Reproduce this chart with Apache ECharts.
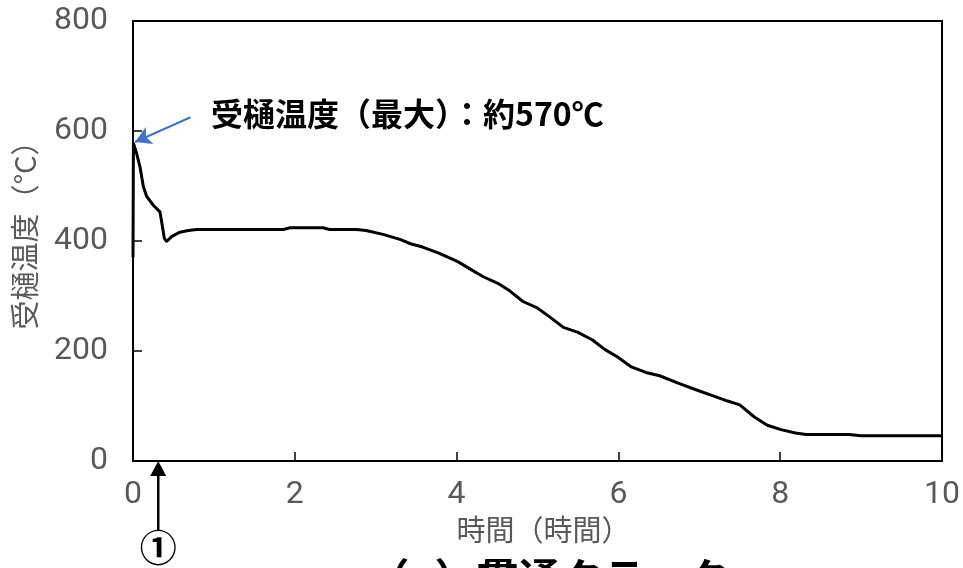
<!DOCTYPE html>
<html>
<head>
<meta charset="utf-8">
<script src="https://cdn.jsdelivr.net/npm/echarts@6/dist/echarts.min.js"></script>
<style>html,body{margin:0;padding:0;background:#fff;}#c{width:963px;height:568px;}</style>
</head>
<body>
<div id="c"></div>
<script>
// ---- data ----
var timeHours = [0, 0.005, 0.045, 0.086, 0.128, 0.169, 0.251, 0.333, 0.354, 0.387, 0.416, 0.477, 0.58, 0.683, 0.786, 1.86, 1.94, 2.35, 2.43, 2.76, 2.88, 3.09, 3.30, 3.43, 3.58, 3.78, 3.96, 4.02, 4.18, 4.33, 4.51, 4.66, 4.82, 4.99, 5.15, 5.32, 5.50, 5.68, 5.83, 5.99, 6.16, 6.34, 6.51, 6.73, 6.95, 7.18, 7.35, 7.50, 7.68, 7.84, 8.01, 8.19, 8.32, 8.85, 9.00, 10];
var troughTemp = [370, 578, 559, 535, 499, 481, 465, 453, 435, 405, 399, 408, 416, 419, 421, 421, 424, 424, 421, 421, 419, 412, 403, 395, 389, 378, 366, 362, 348, 335, 323, 309, 290, 279, 262, 243, 234, 220, 203, 189, 171, 161, 155, 142, 130, 118, 109, 102, 80, 65, 57, 51, 48, 48, 46, 46];
var xTicks = {min: 0, max: 10, interval: 2};
var yTicks = {min: 0, max: 800, interval: 200};
var xTitle = '時間（時間）';
var yTitle = '受樋温度（°C）';
var annotationText = '受樋温度（最大）：約570℃';
var arrowFrom = [0.711, 625];
var arrowTo = [0.025, 580];
var markerTime = 0.312;
var markerLabel = '①';
var caption = '（a）貫通クラック';

var seriesData = timeHours.map(function (t, i) { return [t, troughTemp[i]]; });

var numFont = "'Roboto', sans-serif";
var jpFont = "'Noto Sans CJK JP', sans-serif";
var gray = '#595959';

var chart = echarts.init(document.getElementById('c'), null, {renderer: 'canvas'});
chart.setOption({
  animation: false,
  backgroundColor: '#fff',
  grid: {left: 133, right: 20, top: 21, bottom: 107, show: true, borderColor: '#000', borderWidth: 2, backgroundColor: 'transparent'},
  xAxis: {
    type: 'value', min: xTicks.min, max: xTicks.max, interval: xTicks.interval,
    name: xTitle, nameLocation: 'middle', nameGap: 49,
    nameTextStyle: {color: gray, fontFamily: jpFont, fontSize: 29, padding: [0, 0, 0, 12]},
    axisLine: {show: true, onZero: false, lineStyle: {color: '#000', width: 2}},
    axisTick: {show: true, inside: true, length: 9, lineStyle: {color: '#000', width: 1.5}},
    axisLabel: {color: gray, fontFamily: numFont, fontSize: 32, margin: 18},
    splitLine: {show: false}
  },
  yAxis: {
    type: 'value', min: yTicks.min, max: yTicks.max, interval: yTicks.interval,
    name: yTitle, nameLocation: 'middle', nameGap: 94,
    nameTextStyle: {color: gray, fontFamily: jpFont, fontSize: 29, padding: [0, 0, 0, 26]},
    axisLine: {show: true, lineStyle: {color: '#000', width: 2}},
    axisTick: {show: true, inside: true, length: 9, lineStyle: {color: '#000', width: 1.5}},
    axisLabel: {color: gray, fontFamily: numFont, fontSize: 32, margin: 25},
    splitLine: {show: false}
  },
  series: [{
    type: 'line',
    data: seriesData,
    showSymbol: false,
    symbol: 'none',
    lineStyle: {color: '#000', width: 3},
    markLine: {
      silent: true,
      symbol: ['none', 'arrow'],
      symbolSize: [14, 16],
      label: {show: false},
      lineStyle: {color: '#4472C4', width: 2, type: 'solid'},
      data: [[{coord: arrowFrom}, {coord: arrowTo}]]
    }
  }]
});

var tip = chart.convertToPixel({gridIndex: 0}, [markerTime, 0]);
var tx = tip[0], ty = tip[1];
chart.setOption({
  graphic: [
    {type: 'line', shape: {x1: tx, y1: ty + 12, x2: tx, y2: ty + 69}, style: {stroke: '#000', lineWidth: 2.5}, z: 100},
    {type: 'polygon', shape: {points: [[tx, ty], [tx - 8, ty + 15], [tx + 8, ty + 15]]}, style: {fill: '#000'}, z: 100},
    {type: 'text', x: tx, y: ty + 87, style: {text: markerLabel, fill: '#000', font: 'bold 37px ' + jpFont, align: 'center', verticalAlign: 'middle'}, z: 100},
    {type: 'text', x: 211, y: 114, style: {text: annotationText, fill: '#000', font: 'bold 32px ' + jpFont, align: 'left', verticalAlign: 'middle'}, z: 100},
    {type: 'text', x: 548, y: 578, style: {text: caption, fill: '#000', font: 'bold 42px ' + jpFont, align: 'center', verticalAlign: 'middle'}, z: 100}
  ]
});
</script>
</body>
</html>
